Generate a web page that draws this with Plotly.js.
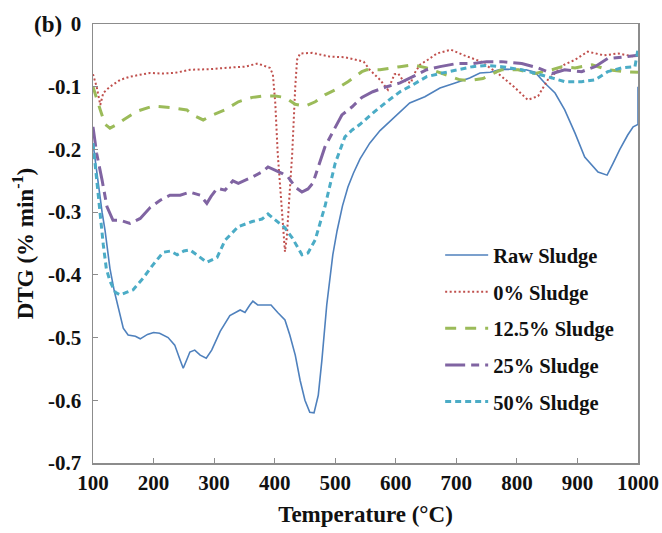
<!DOCTYPE html>
<html>
<head>
<meta charset="utf-8">
<script src="https://cdn.plot.ly/plotly-3.0.1.min.js"></script>
<style>html,body{margin:0;padding:0;background:#fff;}#chart{width:662px;height:533px;}</style>
</head>
<body>
<div id="chart"></div>
<script>
// ---- data ----
const seriesNames = ["Raw Sludge", "0% Sludge", "12.5% Sludge", "25% Sludge", "50% Sludge"];

const rawT = [100,105,110,115,120,128,135,140,150,158,170,178,190,200,210,224,235,244,249,255,260,268,277,287,296,310,326,343,351,359,364,372,384,394,405,417,425,434,442,450,458,465,472,478,486,496,503,512,521,530,541,557,574,599,623,648,673,698,722,739,756,775,797,815,830,846,863,879,896,912,934,949,959,970,983,992,1000,1000];
const rawV = [-0.19,-0.23,-0.27,-0.30,-0.33,-0.39,-0.425,-0.445,-0.485,-0.496,-0.498,-0.502,-0.495,-0.492,-0.493,-0.5,-0.512,-0.536,-0.549,-0.535,-0.523,-0.52,-0.528,-0.533,-0.52,-0.49,-0.465,-0.456,-0.46,-0.448,-0.442,-0.448,-0.448,-0.448,-0.46,-0.472,-0.496,-0.528,-0.568,-0.6,-0.619,-0.62,-0.592,-0.536,-0.448,-0.368,-0.33,-0.29,-0.26,-0.238,-0.215,-0.19,-0.17,-0.148,-0.126,-0.116,-0.102,-0.094,-0.086,-0.078,-0.077,-0.072,-0.073,-0.073,-0.077,-0.094,-0.11,-0.137,-0.174,-0.212,-0.236,-0.241,-0.222,-0.2,-0.177,-0.164,-0.16,-0.1];

const s0T = [100,106,112,117,128,145,161,180,194,215,235,260,293,318,351,372,384,392,397,401,405,412,417,420,422,429,434,437,442,462,491,516,547,557,574,587,598,604,612,625,630,640,653,668,691,713,741,769,795,818,835,851,878,896,917,944,967,994,1000];
const s0V = [-0.08,-0.1,-0.129,-0.11,-0.1,-0.089,-0.084,-0.08,-0.078,-0.079,-0.078,-0.073,-0.072,-0.07,-0.068,-0.063,-0.067,-0.07,-0.08,-0.126,-0.206,-0.29,-0.363,-0.34,-0.31,-0.206,-0.1,-0.057,-0.047,-0.046,-0.052,-0.053,-0.06,-0.073,-0.089,-0.105,-0.08,-0.079,-0.09,-0.094,-0.08,-0.065,-0.057,-0.047,-0.041,-0.05,-0.06,-0.079,-0.1,-0.121,-0.115,-0.089,-0.065,-0.057,-0.044,-0.05,-0.047,-0.052,-0.05];

const s125T = [100,106,112,120,128,140,150,173,199,227,255,265,282,298,318,340,363,379,401,417,434,450,467,483,500,521,544,552,574,607,628,651,678,706,722,744,767,775,802,830,858,874,896,924,950,978,1000];
const s125V = [-0.1,-0.12,-0.137,-0.16,-0.166,-0.16,-0.153,-0.139,-0.131,-0.133,-0.137,-0.145,-0.153,-0.145,-0.137,-0.124,-0.117,-0.115,-0.115,-0.117,-0.128,-0.131,-0.124,-0.113,-0.105,-0.092,-0.076,-0.073,-0.073,-0.068,-0.065,-0.07,-0.079,-0.089,-0.09,-0.087,-0.076,-0.073,-0.073,-0.079,-0.073,-0.068,-0.07,-0.065,-0.073,-0.076,-0.077];

const s25T = [100,106,115,123,133,145,161,178,194,211,227,244,260,277,288,295,305,318,331,340,363,379,389,401,412,422,434,445,455,463,472,483,495,511,528,544,562,585,607,628,651,673,701,727,750,775,808,835,858,879,907,929,950,983,1000];
const s25V = [-0.164,-0.206,-0.249,-0.291,-0.313,-0.313,-0.318,-0.31,-0.293,-0.281,-0.273,-0.273,-0.268,-0.273,-0.286,-0.275,-0.262,-0.265,-0.25,-0.254,-0.244,-0.236,-0.228,-0.233,-0.238,-0.244,-0.26,-0.268,-0.263,-0.254,-0.228,-0.196,-0.174,-0.145,-0.132,-0.117,-0.108,-0.1,-0.094,-0.084,-0.073,-0.068,-0.063,-0.063,-0.06,-0.06,-0.063,-0.07,-0.079,-0.073,-0.076,-0.068,-0.055,-0.052,-0.05];

const s50T = [100,105,110,117,122,128,137,145,155,166,183,199,216,228,239,250,260,271,288,305,318,330,340,363,379,389,401,417,429,445,455,467,483,500,516,528,541,562,585,607,628,651,673,701,727,750,775,808,841,858,879,907,929,950,973,995,1000];
const s50V = [-0.19,-0.24,-0.29,-0.352,-0.39,-0.41,-0.428,-0.432,-0.428,-0.424,-0.405,-0.384,-0.364,-0.362,-0.368,-0.362,-0.36,-0.368,-0.38,-0.372,-0.345,-0.333,-0.323,-0.315,-0.311,-0.303,-0.313,-0.325,-0.341,-0.368,-0.365,-0.344,-0.291,-0.222,-0.18,-0.169,-0.16,-0.142,-0.124,-0.108,-0.097,-0.084,-0.079,-0.073,-0.068,-0.066,-0.068,-0.073,-0.081,-0.086,-0.092,-0.092,-0.089,-0.076,-0.07,-0.068,-0.04];

const xTickVals = [100,200,300,400,500,600,700,800,900,1000];
const xTickText = ["100","200","300","400","500","600","700","800","900","1000"];
const yTickVals = [0,-0.1,-0.2,-0.3,-0.4,-0.5,-0.6,-0.7];
const yTickText = ["0","-0.1","-0.2","-0.3","-0.4","-0.5","-0.6","-0.7"];

// ---- styles ----
const FONT = "Liberation Serif, Times New Roman, serif";
const styles = [
  {color:"#4F81BD", width:1.6, dash:"solid"},
  {color:"#C0504D", width:2,   dash:"2px,2.5px"},
  {color:"#9BBB59", width:3,   dash:"11px,9px"},
  {color:"#8064A2", width:3,   dash:"20px,6px,8px,6px"},
  {color:"#4BACC6", width:3,   dash:"6px,4px"}
];
const xs = [rawT, s0T, s125T, s25T, s50T];
const ys = [rawV, s0V, s125V, s25V, s50V];

const traces = seriesNames.map((n,i)=>({
  type:"scatter", mode:"lines", name:n, x:xs[i], y:ys[i],
  legendgroup:"g"+i,
  line:{color:styles[i].color, width:styles[i].width, dash:styles[i].dash}
}));

const axisCommon = {
  showline:true, linecolor:"#8c8c8c", linewidth:1.5, mirror:true,
  ticks:"inside", ticklen:5, tickcolor:"#8c8c8c", tickwidth:1.2,
  showgrid:false, zeroline:false
};

const layout = {
  width:662, height:533,
  margin:{l:93, r:24, t:24, b:70},
  paper_bgcolor:"#fff", plot_bgcolor:"#fff",
  showlegend:true,
  legend:{
    x:0.637, y:0.519, xanchor:"left", yanchor:"top",
    bgcolor:"rgba(255,255,255,0)", borderwidth:0,
    font:{family:FONT, size:20.5, color:"#111", weight:"bold"},
    itemwidth:43, traceorder:"grouped", tracegroupgap:7
  },
  xaxis: Object.assign({}, axisCommon, {
    range:[100,1000], tickmode:"array", tickvals:xTickVals, ticktext:xTickText,
    tickfont:{family:FONT, size:21, color:"#111", weight:"bold"},
    title:{text:"Temperature (°C)", font:{family:FONT, size:23, color:"#111", weight:"bold"}, standoff:12}
  }),
  yaxis: Object.assign({}, axisCommon, {
    range:[-0.7,0], tickmode:"array", tickvals:yTickVals, ticktext:yTickText,
    ticklabelstandoff:6,
    tickfont:{family:FONT, size:21, color:"#111", weight:"bold"},
    title:{text:"DTG (% min<sup>-1</sup>)", font:{family:FONT, size:23, color:"#111", weight:"bold"}, standoff:8}
  }),
  annotations:[{
    xref:"paper", yref:"paper", x:-0.112, y:1.0, xanchor:"left", yanchor:"middle",
    text:"<b>(b)</b>", showarrow:false, font:{family:FONT, size:23, color:"#111"}
  }]
};

Plotly.newPlot("chart", traces, layout, {displayModeBar:false, staticPlot:true});
</script>
</body>
</html>
